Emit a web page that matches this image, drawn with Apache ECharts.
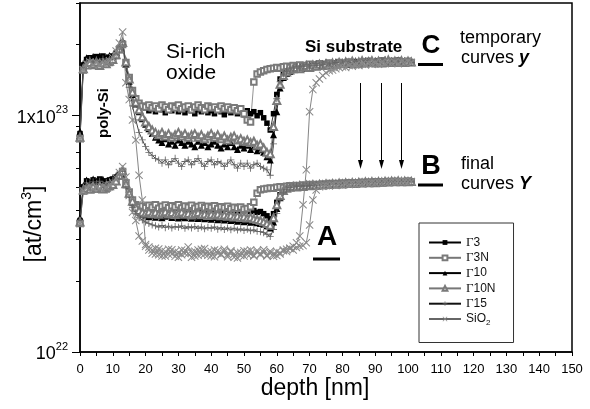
<!DOCTYPE html>
<html><head><meta charset="utf-8">
<script src="https://cdn.jsdelivr.net/npm/echarts@6/dist/echarts.min.js"></script>
<style>html,body{margin:0;padding:0;background:#fff}#c{width:590px;height:409px}</style>
</head><body><div id="c"></div>
<script>
// depth in nm
const depth = [0,1,2,3,4,5,6,7,8,9,10,11,12,13,14,15,16,17,18,19,20,21,22,23,24,25,26,27,28,29,30,31,32,33,34,35,36,37,38,39,40,41,42,43,44,45,46,47,48,49,50,51,52,53,54,55,56,57,58,59,60,61,62,63,64,65,66,67,68,69,70,71,72,73,74,75,76,77,78,79,80,81,82,83,84,85,86,87,88,89,90,91,92,93,94,95,96,97,98,99,100,101];
// concentrations in units of 1e22 at/cm3 — temporary curves y (C)
const g3Up = [8.4,16.4,17.3,17.6,17.4,17.8,17.5,17.9,17.4,17.7, 17.9,18.4,19.3,20.3,16.6,14.3,12.6,11.7,11.2,10.9, 10.8,10.5,10.7,10.4,10.9,10.6,10.3,10.7,10.5,10.8, 10.4,10.6,10.3,10.7,10.5,10.2,10.6,10.4,10.7,10.3, 10.5,10.2,10.6,10.4,10.1,10.5,10.3,10.6,10.2,10.4, 10.1,10.5,10.2,10.4,10.0,10.3,9.8,9.3,8.7,10.2, 12.3,14.3,15.1,15.5,15.8,16.0,16.2,16.0,16.3,16.1, 16.4,16.2,16.5,16.3,16.6,16.2,16.5,16.7,16.4,16.8, 16.5,16.7,16.4,16.9,16.6,16.8,16.5,17.0,16.7,16.9, 16.6,17.1,16.8,16.6,17.0,16.7,16.9,16.6,17.0,16.8, 16.9,16.7];
const g3nUp = [8.0,15.6,16.5,16.8,16.3,16.7,16.4,16.9,16.5,16.8, 17.2,18.0,19.0,20.0,16.8,14.5,12.8,11.8,11.3,11.0, 10.9,11.1,10.8,11.0,10.7,11.1,10.9,10.6,11.0,10.8, 11.1,10.7,10.9,11.0,10.6,10.9,11.1,10.8,10.6,11.0, 10.8,10.9,10.6,11.0,10.7,10.9,10.6,10.8,10.5,10.7, 10.2,9.6,9.4,13.9,15.0,15.3,15.5,15.7,15.8,15.9, 16.0,15.9,16.1,16.2,16.0,16.3,16.1,16.4,16.2,16.3, 16.5,16.2,16.4,16.6,16.3,16.5,16.7,16.4,16.6,16.8, 16.5,16.7,16.9,16.6,16.8,16.5,16.9,16.7,17.0,16.8, 16.6,16.9,17.1,16.8,16.7,17.0,16.8,17.1,16.9,16.7, 17.0,16.8];
const g10Up = [8.6,16.6,17.6,17.3,17.8,17.5,17.9,17.4,17.7,18.0, 17.8,18.5,19.4,20.6,16.6,14.0,12.3,11.2,10.4,9.7, 9.2,8.8,8.4,8.1,7.9,7.7,8.0,7.6,7.8,7.5, 7.9,7.7,7.5,7.8,7.6,7.4,7.8,7.5,7.7,7.4, 7.6,7.8,7.5,7.3,7.6,7.4,7.7,7.4,7.2,7.5, 7.3,7.5,7.2,7.4,7.1,7.2,7.0,6.7,6.5,8.3, 10.4,13.1,14.5,15.1,15.4,15.7,15.9,16.1,15.9,16.2, 16.4,16.1,16.5,16.3,16.6,16.8,16.4,16.7,16.9,16.5, 16.8,17.0,16.6,16.9,17.1,16.7,17.0,16.8,17.2,16.9, 17.1,16.8,17.0,17.3,16.9,17.1,16.8,17.2,16.9,17.1, 16.8,17.0];
const g10nUp = [8.1,15.8,16.4,16.8,16.5,16.9,16.3,16.7,16.6,17.0, 17.3,18.1,19.2,20.4,16.9,14.3,12.6,11.4,10.6,9.9, 9.4,9.0,8.7,8.5,8.3,8.5,8.2,8.4,8.1,8.3, 8.5,8.2,8.4,8.1,8.3,8.4,8.1,8.3,8.0,8.2, 8.4,8.1,8.3,8.0,8.2,7.9,8.1,8.2,7.9,8.0, 7.8,7.9,7.7,7.8,7.5,7.6,7.3,7.0,6.9,9.0, 11.6,13.6,14.8,15.3,15.6,15.8,16.0,15.8,16.1,16.3, 16.0,16.4,16.2,16.5,16.3,16.6,16.4,16.7,16.5,16.8, 16.6,16.9,16.7,17.0,16.6,16.9,17.1,16.7,16.9,17.1, 16.8,17.0,16.7,17.0,17.2,16.8,17.0,16.9,17.1,16.8, 17.0,16.9];
const g15Up = [8.2,16.0,17.0,17.3,16.9,17.2,17.0,17.4,17.1,17.3, 17.5,18.2,19.0,20.0,16.0,13.2,11.0,9.6,8.5,7.9, 7.4,7.0,6.8,6.6,6.5,6.3,6.5,6.2,6.4,6.6, 6.3,6.1,6.4,6.5,6.2,6.4,6.6,6.3,6.1,6.4, 6.5,6.2,6.4,6.3,6.1,6.3,6.5,6.2,6.0,6.3, 6.1,6.3,6.0,6.2,6.3,6.1,6.0,5.9,5.6,7.6, 11.8,13.9,15.0,15.4,15.6,15.9,16.1,15.9,16.2,16.4, 16.1,16.3,16.6,16.3,16.5,16.7,16.4,16.6,16.8,16.5, 16.7,16.9,16.6,16.8,17.0,16.7,16.9,17.1,16.8,16.7, 17.0,16.8,17.1,16.9,16.7,17.0,16.8,17.0,16.7,17.0, 16.9,16.8];
const sioUp = [8.0,15.7,16.6,16.9,16.4,16.8,16.5,16.7,16.9,17.1, 17.6,18.8,20.3,22.6,13.8,11.7,9.6,7.9,5.6,4.4, 2.8,2.7,2.62,2.75,2.58,2.68,2.55,2.72,2.6,2.66, 2.52,2.7,2.61,2.78,2.64,2.55,2.7,2.6,2.74,2.57, 2.66,2.53,2.69,2.6,2.72,2.58,2.65,2.52,2.63,2.56, 2.68,2.59,2.7,2.55,2.64,2.6,2.71,2.57,2.62,2.54, 2.66,2.6,2.68,2.72,2.75,2.8,2.9,3.1,4.2,5.9, 10.4,12.9,13.8,14.3,14.8,15.2,15.5,15.6,15.8,16.0, 16.1,16.0,16.3,16.2,16.4,16.3,16.5,16.4,16.6,16.5, 16.7,16.5,16.8,16.6,16.8,16.7,16.9,16.6,16.9,16.8, 17.0,16.8];
// final curves Y (B)
const g3Lo = [3.6,5.0,5.3,5.2,5.35,5.25,5.4,5.2,5.3,5.35, 5.4,5.5,5.65,5.85,5.15,4.7,4.35,4.15,4.1,4.08, 4.12,4.03,4.1,4.0,4.07,4.13,4.02,4.09,4.0,4.06, 4.11,4.01,4.08,3.98,4.05,4.1,4.0,4.06,3.97,4.04, 4.09,3.99,4.05,3.96,4.03,4.07,3.97,4.02,3.95,4.0, 3.96,4.01,3.93,3.97,3.9,3.93,3.85,3.77,3.66,3.85, 4.3,4.63,4.8,4.93,4.98,5.0,5.04,5.0,5.06,5.03, 5.08,5.05,5.1,5.06,5.12,5.08,5.14,5.1,5.15,5.12, 5.17,5.13,5.18,5.14,5.2,5.16,5.21,5.17,5.22,5.18, 5.24,5.2,5.25,5.21,5.26,5.22,5.27,5.23,5.28,5.24, 5.27,5.25];
const g3nLo = [3.5,4.8,4.9,5.0,4.88,4.97,4.92,5.02,4.9,5.0, 5.1,5.3,5.55,5.8,5.2,4.75,4.4,4.2,4.12,4.15, 4.08,4.18,4.1,4.2,4.06,4.14,4.19,4.08,4.16,4.11, 4.2,4.07,4.15,4.1,4.18,4.06,4.13,4.17,4.08,4.14, 4.09,4.16,4.05,4.12,4.08,4.14,4.04,4.1,4.06,4.11, 4.02,4.05,4.12,4.3,4.7,4.86,4.9,4.92,4.95,4.93, 4.98,5.0,4.97,5.03,5.05,5.02,5.07,5.04,5.09,5.06, 5.11,5.08,5.12,5.1,5.14,5.11,5.16,5.13,5.17,5.14, 5.19,5.15,5.2,5.17,5.21,5.18,5.23,5.19,5.24,5.2, 5.25,5.21,5.26,5.22,5.27,5.23,5.28,5.24,5.27,5.25, 5.29,5.26];
const g10Lo = [3.7,5.05,5.35,5.25,5.4,5.3,5.2,5.38,5.28,5.36, 5.45,5.55,5.7,5.9,5.1,4.65,4.3,4.05,3.92,3.83, 3.8,3.74,3.79,3.72,3.77,3.7,3.75,3.79,3.71,3.76, 3.69,3.74,3.7,3.76,3.68,3.73,3.67,3.72,3.66,3.71, 3.65,3.7,3.63,3.68,3.62,3.66,3.6,3.64,3.58,3.62, 3.56,3.6,3.54,3.57,3.52,3.5,3.47,3.42,3.35,3.55, 4.05,4.5,4.78,4.92,4.97,5.0,5.03,5.06,5.02,5.07, 5.04,5.1,5.06,5.12,5.08,5.14,5.1,5.15,5.12,5.17, 5.13,5.18,5.15,5.2,5.16,5.21,5.18,5.23,5.19,5.24, 5.2,5.25,5.22,5.26,5.23,5.27,5.24,5.28,5.25,5.29, 5.26,5.28];
const g10nLo = [3.55,4.85,4.95,4.88,5.0,4.92,5.03,4.9,4.98,5.05, 5.12,5.3,5.6,5.85,5.15,4.7,4.35,4.1,3.97,3.9, 3.87,3.92,3.85,3.9,3.83,3.88,3.92,3.84,3.89,3.82, 3.87,3.91,3.83,3.86,3.8,3.85,3.89,3.81,3.84,3.78, 3.83,3.79,3.84,3.77,3.8,3.75,3.79,3.73,3.76,3.71, 3.74,3.69,3.72,3.66,3.64,3.6,3.56,3.5,3.44,3.7, 4.2,4.6,4.82,4.93,4.98,5.02,4.99,5.05,5.02,5.08, 5.05,5.1,5.07,5.12,5.09,5.14,5.11,5.16,5.13,5.18, 5.14,5.19,5.16,5.21,5.17,5.22,5.19,5.24,5.2,5.25, 5.21,5.26,5.23,5.27,5.24,5.28,5.25,5.29,5.26,5.28, 5.25,5.27];
const g15Lo = [3.6,4.95,5.2,5.15,5.25,5.18,5.28,5.12,5.22,5.27, 5.35,5.45,5.62,5.8,5.0,4.5,4.1,3.85,3.7,3.62, 3.55,3.5,3.45,3.42,3.38,3.43,3.36,3.41,3.35,3.4, 3.37,3.42,3.34,3.39,3.35,3.4,3.33,3.38,3.32,3.37, 3.34,3.38,3.31,3.36,3.3,3.35,3.29,3.34,3.28,3.32, 3.27,3.31,3.26,3.29,3.24,3.23,3.2,3.15,3.08,3.3, 3.85,4.4,4.72,4.88,4.96,5.0,5.04,5.01,5.06,5.03, 5.08,5.05,5.1,5.07,5.12,5.09,5.14,5.11,5.16,5.13, 5.18,5.14,5.19,5.16,5.21,5.17,5.22,5.19,5.24,5.2, 5.25,5.21,5.26,5.23,5.27,5.24,5.28,5.25,5.29,5.26, 5.28,5.25];
const sioLo = [3.5,4.8,4.95,5.05,4.9,5.0,4.93,5.06,4.97,5.1, 5.2,5.45,5.75,6.1,5.5,4.6,3.9,3.6,3.1,2.95, 2.85,2.78,2.7,2.6,2.73,2.55,2.66,2.59,2.71,2.54, 2.64,2.58,2.69,2.61,2.52,2.67,2.57,2.72,2.6,2.65, 2.55,2.7,2.62,2.58,2.66,2.53,2.68,2.6,2.5,2.64, 2.55,2.67,2.6,2.56,2.69,2.58,2.64,2.55,2.67,2.6, 2.56,2.63,2.7,2.66,2.74,2.7,2.77,2.8,2.82,2.9, 3.45,4.4,4.85,5.0,5.03,5.06,5.04,5.09,5.07,5.11, 5.09,5.13,5.11,5.15,5.13,5.17,5.15,5.19,5.17,5.21, 5.19,5.23,5.21,5.24,5.22,5.26,5.24,5.27,5.25,5.28, 5.26,5.27];

const seriesNames = ['Γ3','Γ3N','Γ10','Γ10N','Γ15','SiO2'];
const upperCurves = [g3Up, g3nUp, g10Up, g10nUp, g15Up, sioUp];
const lowerCurves = [g3Lo, g3nLo, g10Lo, g10nLo, g15Lo, sioLo];

const xTickLabels = [0,10,20,30,40,50,60,70,80,90,100,110,120,130,140,150];
const xTickMarks = [0,5,10,15,20,25,30,35,40,45,50,55,60,65,70,75,80,85,90,95,100,105,110,115,120,125,130,135,140,145,150];
const yTickLabels = [1,10];            // 1e22, 1e23
const yMinorTicks = [2,3,4,5,6,7,8,9,20,30];

const FONT = 'Liberation Sans, Arial, sans-serif';
const PLUS = 'path://M4.4,0H5.6V4.4H10V5.6H5.6V10H4.4V5.6H0V4.4H4.4Z';
const CROSS = 'path://M0,0.9L0.9,0L5,4.1L9.1,0L10,0.9L5.9,5L10,9.1L9.1,10L5,5.9L0.9,10L0,9.1L4.1,5Z';
const styles = [
  {symbol:'rect', size:5.5, color:'#000', line:'#000', empty:false},
  {symbol:'emptyRect', size:5.5, color:'#7a7a7a', line:'#777', empty:true},
  {symbol:'triangle', size:7, color:'#000', line:'#000', empty:false},
  {symbol:'emptyTriangle', size:7, color:'#7a7a7a', line:'#777', empty:true},
  {symbol:PLUS, size:7, color:'#666', line:'#111', empty:false},
  {symbol:CROSS, size:8, color:'#8a8a8a', line:'#666', empty:false}
];

const series = [];
seriesNames.forEach((name, k) => {
  const st = styles[k];
  [upperCurves[k], lowerCurves[k]].forEach(arr => {
    series.push({
      type: 'line', name: name,
      data: depth.map((d, i) => [d, arr[i]]),
      symbol: st.symbol, symbolSize: st.size, showAllSymbol: true,
      lineStyle: {color: st.line, width: 0.8},
      itemStyle: {color: st.color, borderColor: st.color, borderWidth: st.empty ? 1 : 0},
      emphasis: {disabled: true},
      silent: true
    });
  });
});

const T = (x, y, text, size, opts) => Object.assign({
  type: 'text', x: x, y: y, silent: true,
  style: Object.assign({text: text, fontSize: size, fontFamily: FONT, fill: '#000',
    align: 'left', textAlign: 'left', verticalAlign: 'middle', textVerticalAlign: 'middle'}, (opts && opts.style) || {})
}, (opts && opts.el) || {});

const graphics = [
  T(166, 52, 'Si-rich', 21),
  T(166, 73, 'oxide', 21),
  T(104, 113, 'poly-Si', 15, {style:{fontWeight:'bold', align:'center', textAlign:'center'}, el:{rotation: Math.PI/2}}),
  T(305, 47, 'Si substrate', 17, {style:{fontWeight:'bold'}}),
  T(431, 46, 'C', 26, {style:{fontWeight:'bold', align:'center', textAlign:'center'}}),
  T(460, 38, 'temporary', 18),
  T(461, 58, '{n|curves }{b|y}', 18, {style:{rich:{n:{fontSize:18, fontFamily:FONT}, b:{fontSize:18, fontFamily:FONT, fontWeight:'bold', fontStyle:'italic'}}}}),
  T(431, 167, 'B', 27, {style:{fontWeight:'bold', align:'center', textAlign:'center'}}),
  T(461, 164, 'final', 18),
  T(461, 184, '{n|curves }{b|Y}', 18, {style:{rich:{n:{fontSize:18, fontFamily:FONT}, b:{fontSize:18, fontFamily:FONT, fontWeight:'bold', fontStyle:'italic'}}}}),
  T(327, 237, 'A', 28, {style:{fontWeight:'bold', align:'center', textAlign:'center'}}),
  T(315, 389, 'depth [nm]', 23, {style:{align:'center', textAlign:'center'}}),
  T(33, 224, '{a|[at/cm}{s|3}{a|]}', 23, {style:{align:'center', textAlign:'center',
      rich:{a:{fontSize:23, fontFamily:FONT, lineHeight:26, verticalAlign:'bottom'}, s:{fontSize:14, fontFamily:FONT, lineHeight:14, verticalAlign:'top'}}},
      el:{rotation: Math.PI/2}}),
  {type:'rect', silent:true, shape:{x:418, y:63, width:25, height:3}, style:{fill:'#000'}},
  {type:'rect', silent:true, shape:{x:418, y:183.5, width:25, height:3}, style:{fill:'#000'}},
  {type:'rect', silent:true, shape:{x:313, y:257.5, width:27, height:3}, style:{fill:'#000'}}
];
[360.5, 381.5, 401.5].forEach(x => {
  graphics.push({type:'line', silent:true, shape:{x1:x, y1:83, x2:x, y2:163}, style:{stroke:'#000', lineWidth:1}});
  graphics.push({type:'polygon', silent:true, shape:{points:[[x-2.5,160],[x+2.5,160],[x,169]]}, style:{fill:'#000'}});
});

const chart = echarts.init(document.getElementById('c'), null, {renderer: 'canvas'});
chart.setOption({
  animation: false,
  backgroundColor: '#fff',
  grid: {left: 80, right: 18, top: 3, bottom: 57, show: true, borderColor: '#000', borderWidth: 1.5, containLabel: false, outerBoundsMode: 'none'},
  xAxis: {
    type: 'value', min: 0, max: 150, interval: 5,
    axisLine: {show: true, onZero: false, lineStyle: {color: '#000', width: 1.5}},
    axisTick: {show: true, inside: false, length: 4, customValues: xTickMarks, lineStyle: {color: '#000', width: 1}},
    axisLabel: {customValues: xTickLabels, margin: 11, fontSize: 13, fontFamily: FONT, color: '#000'},
    splitLine: {show: false}
  },
  yAxis: [{
    type: 'log', logBase: 10, min: 1, max: 30, position: 'left',
    axisLine: {show: true, lineStyle: {color: '#000', width: 1.5}},
    axisTick: {show: true, inside: false, length: 8, customValues: yTickLabels, lineStyle: {color: '#000', width: 1}},
    axisLabel: {
      customValues: yTickLabels, margin: 12, color: '#000',
      formatter: v => (Math.abs(v - 1) < 1e-9 ? '{b|10}{s|22}' : '{b|1x10}{s|23}'),
      rich: {
        b: {fontSize: 18, fontFamily: FONT, color: '#000', lineHeight: 22, verticalAlign: 'bottom'},
        s: {fontSize: 11, fontFamily: FONT, color: '#000', lineHeight: 11, verticalAlign: 'top'}
      }
    },
    splitLine: {show: false}
  }, {
    type: 'log', logBase: 10, min: 1, max: 30, position: 'left',
    axisLine: {show: false},
    axisTick: {show: true, inside: false, length: 4, customValues: yMinorTicks, lineStyle: {color: '#000', width: 1}},
    axisLabel: {show: false},
    splitLine: {show: false}
  }],
  legend: {
    orient: 'vertical', left: 419, top: 223, padding: [12, 18, 16, 9], itemGap: 0.3,
    itemWidth: 32, itemHeight: 6, selectedMode: false,
    borderColor: '#333', borderWidth: 1, borderRadius: 0, backgroundColor: '#fff',
    data: seriesNames,
    formatter: name => name === 'SiO2' ? '{t|SiO}{s|2}' : '{g|Γ}{t|' + name.slice(1) + '}',
    textStyle: {
      fontSize: 12, fontFamily: FONT, color: '#111', lineHeight: 15,
      rich: {
        g: {fontSize: 13, fontFamily: 'Liberation Serif, serif', color: '#111', lineHeight: 15},
        t: {fontSize: 12, fontFamily: FONT, color: '#111', lineHeight: 15},
        s: {fontSize: 8, fontFamily: FONT, color: '#111', lineHeight: 8, verticalAlign: 'bottom'}
      }
    }
  },
  graphic: graphics,
  series: series
});
</script>
</body></html>
